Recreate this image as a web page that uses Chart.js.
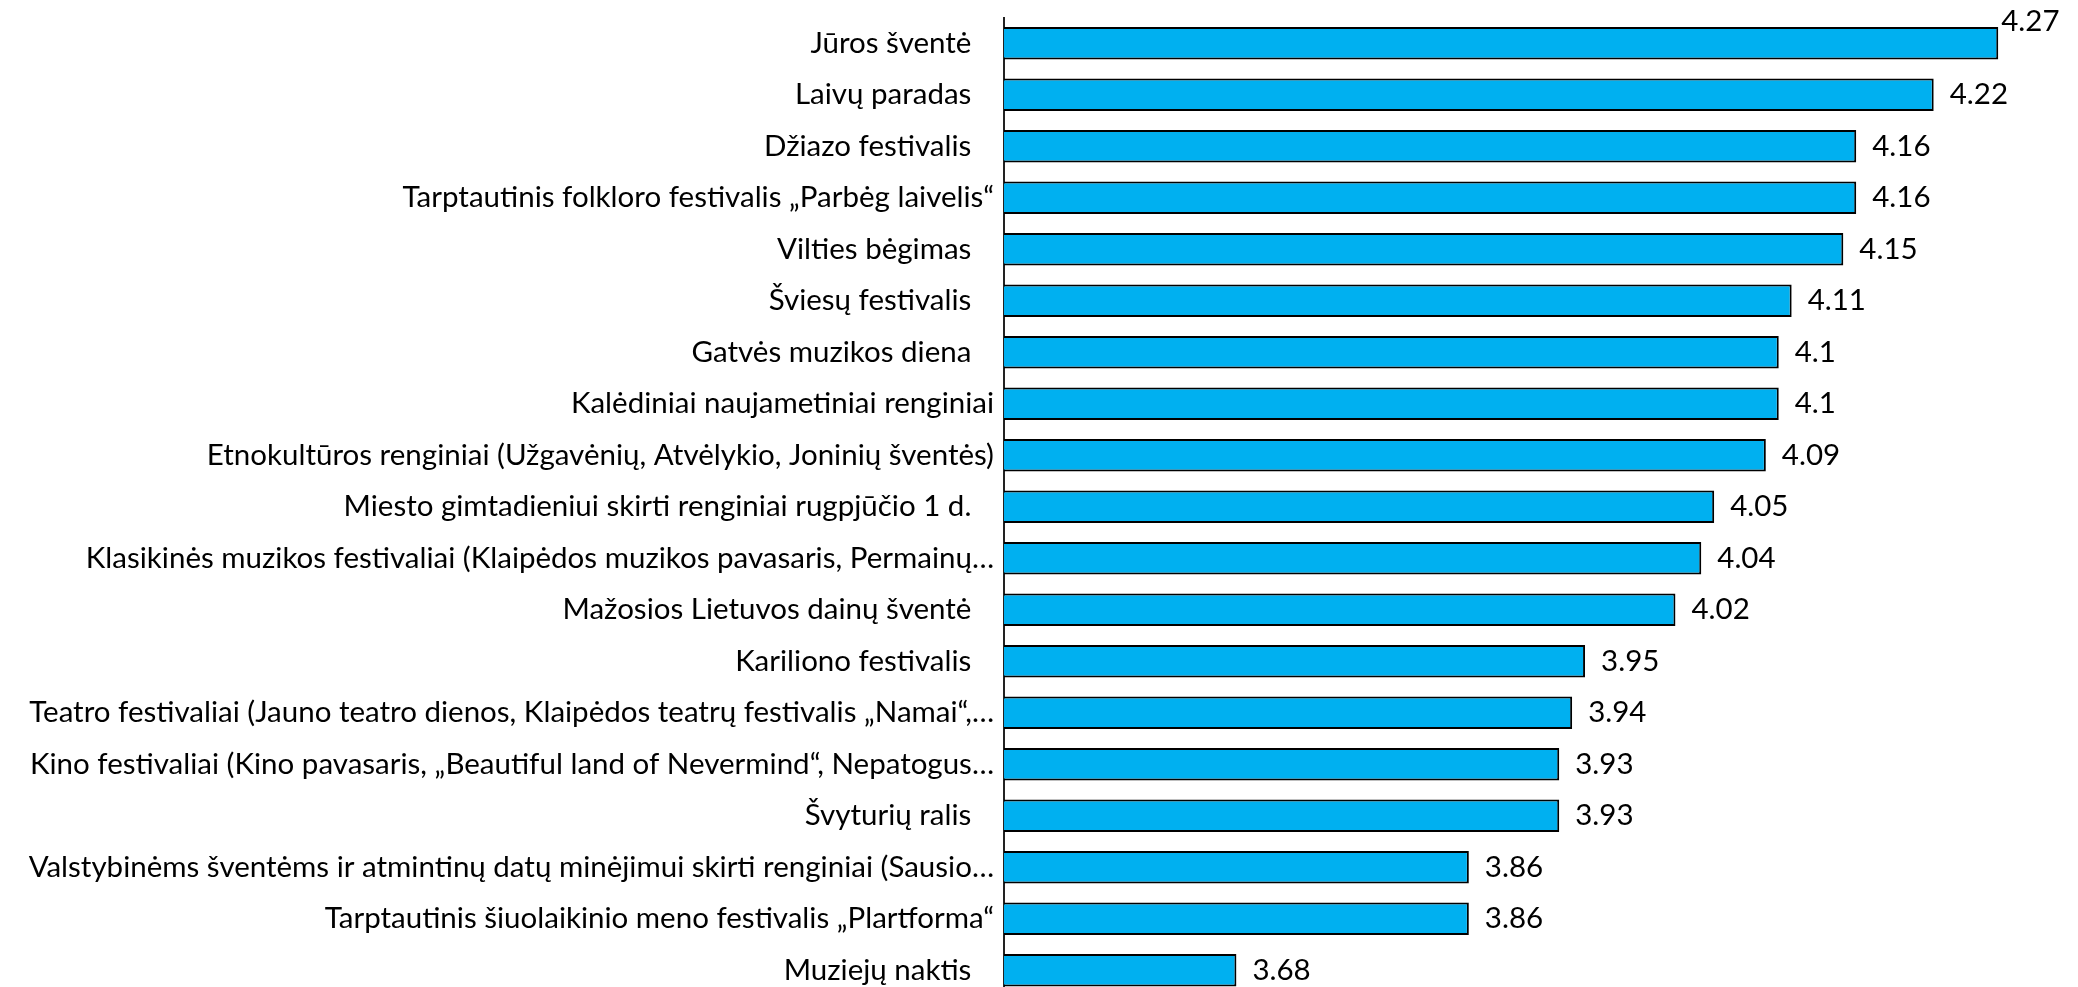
<!DOCTYPE html>
<html>
<head>
<meta charset="utf-8">
<script src="https://cdn.jsdelivr.net/npm/chart.js@4"></script>
<style>
  html, body { margin: 0; padding: 0; background: #fff; overflow: hidden; }
  #wrap { width: 2078px; height: 987px; overflow: hidden; }
</style>
</head>
<body>
<div id="wrap"><canvas id="chart" width="2078" height="996"></canvas></div>
<script>
// renginiai ir jų vertinimai (skalė 1-5)
const events = [
    "Jūros šventė   ",
    "Laivų paradas   ",
    "Džiazo festivalis   ",
    "Tarptautinis folkloro festivalis „Parbėg laivelis“",
    "Vilties bėgimas   ",
    "Šviesų festivalis   ",
    "Gatvės muzikos diena   ",
    "Kalėdiniai naujametiniai renginiai",
    "Etnokultūros renginiai (Užgavėnių, Atvėlykio, Joninių šventės)",
    "Miesto gimtadieniui skirti renginiai rugpjūčio 1 d.   ",
    "Klasikinės muzikos festivaliai (Klaipėdos muzikos pavasaris, Permainų…",
    "Mažosios Lietuvos dainų šventė   ",
    "Kariliono festivalis   ",
    "Teatro festivaliai (Jauno teatro dienos, Klaipėdos teatrų festivalis „Namai“,…",
    "Kino festivaliai (Kino pavasaris, „Beautiful land of Nevermind“, Nepatogus…",
    "Švyturių ralis   ",
    "Valstybinėms šventėms ir atmintinų datų minėjimui skirti renginiai (Sausio…",
    "Tarptautinis šiuolaikinio meno festivalis „Plartforma“",
    "Muziejų naktis   "
];
const scores = [4.27, 4.22, 4.16, 4.16, 4.15, 4.11, 4.1, 4.1, 4.09, 4.05, 4.04, 4.02, 3.95, 3.94, 3.93, 3.93, 3.86, 3.86, 3.68];
const axisMin = 3.5;
const axisMax = 4.3;

const FONT = "Lato, 'Open Sans', sans-serif";
const FONT_SIZE = 29.5;

// reikšmių užrašai prie stulpelių
const valueLabels = {
    id: "valueLabels",
    afterDatasetsDraw(chart) {
        const ctx = chart.ctx;
        const area = chart.chartArea;
        const meta = chart.getDatasetMeta(0);
        ctx.save();
        ctx.font = FONT_SIZE + "px " + FONT;
        ctx.fillStyle = "#000";
        ctx.textAlign = "left";
        ctx.textBaseline = "middle";
        meta.data.forEach((bar, i) => {
            const txt = String(scores[i]);
            const w = ctx.measureText(txt).width;
            let x = bar.x + 16;
            let y = bar.y;
            if (x + w > area.right) {
                // netelpa - dedam virš stulpelio galo
                x = bar.x + 3;
                y = bar.y - bar.height / 2 - 6;
            }
            ctx.fillText(txt, x, y);
        });
        ctx.restore();
    }
};

new Chart(document.getElementById("chart"), {
    type: "bar",
    data: {
        labels: events,
        datasets: [{
            data: scores,
            backgroundColor: "#00B0F0",
            borderColor: "#000",
            borderWidth: 2,
            barPercentage: 0.63,
            categoryPercentage: 1
        }]
    },
    options: {
        indexAxis: "y",
        responsive: false,
        animation: false,
        devicePixelRatio: 1,
        layout: { padding: { top: 17.5, right: 41, bottom: 0, left: 0 } },
        plugins: { legend: { display: false }, tooltip: { enabled: false } },
        scales: {
            x: {
                display: false,
                min: axisMin,
                max: axisMax
            },
            y: {
                grid: { display: false, drawTicks: false },
                border: { display: true, color: "#222", width: 2 },
                ticks: {
                    autoSkip: false,
                    padding: 10,
                    color: "#000",
                    font: { family: FONT, size: FONT_SIZE }
                },
                afterFit(scale) {
                    scale.width = 1004;
                    scale.paddingTop = 0;
                    scale.paddingBottom = 0;
                }
            }
        }
    },
    plugins: [valueLabels]
});
</script>
</body>
</html>
